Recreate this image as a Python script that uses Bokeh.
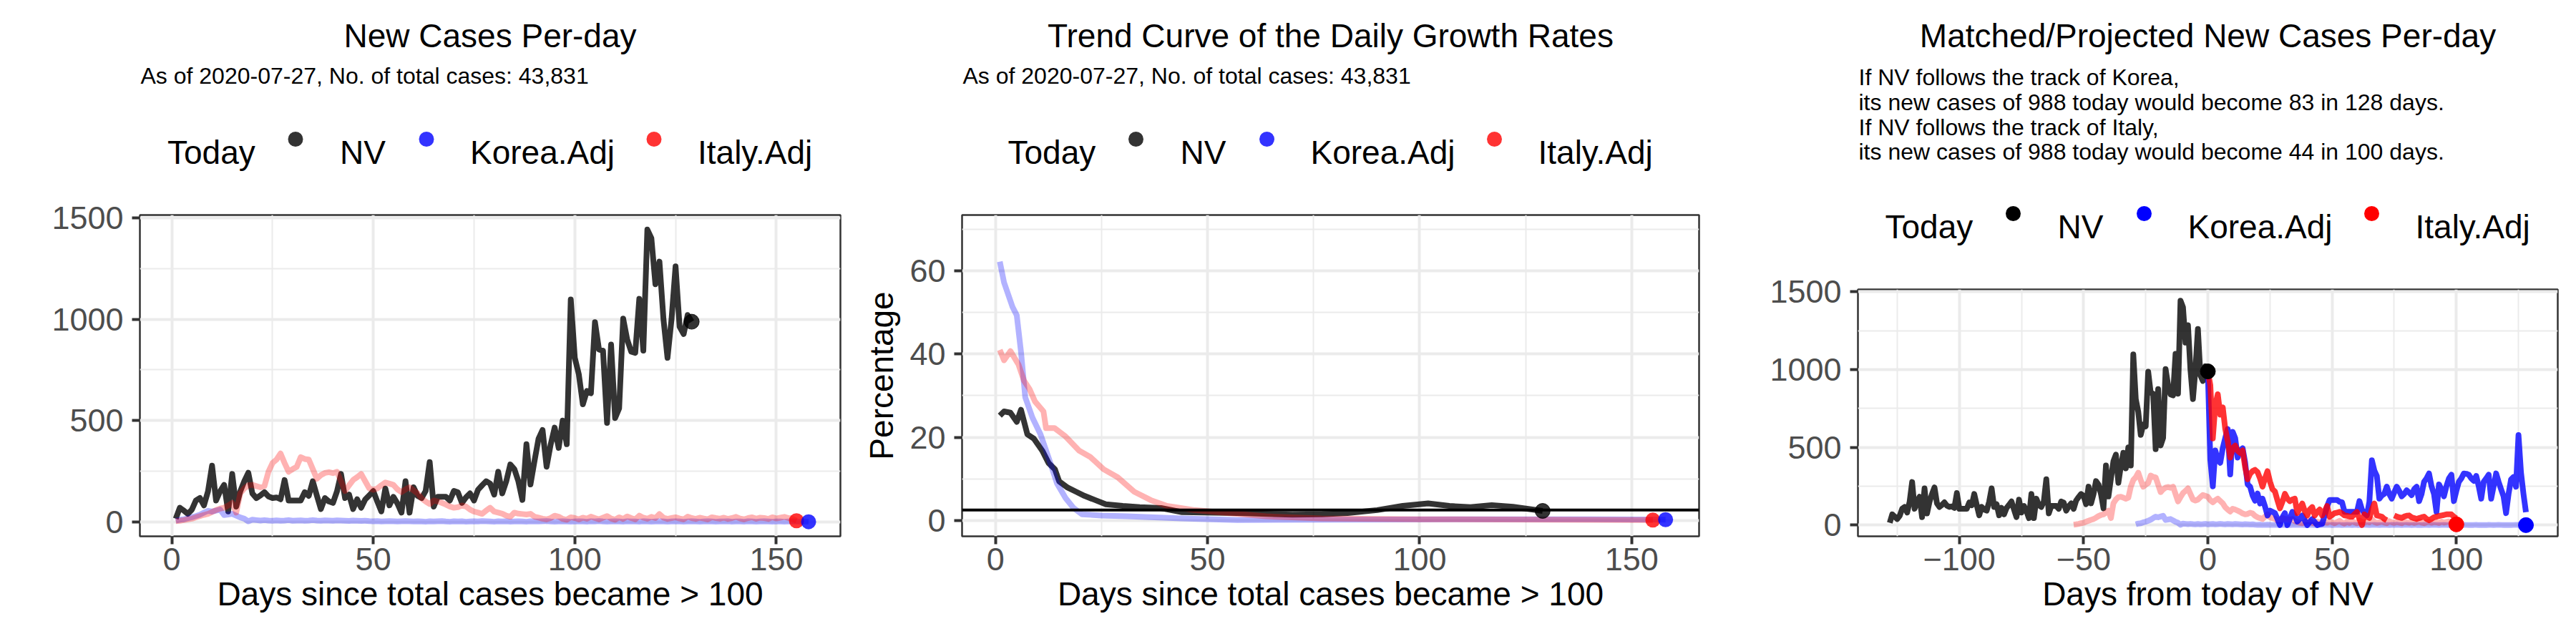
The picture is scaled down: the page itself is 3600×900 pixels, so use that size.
import numpy as np
from bokeh.plotting import figure
from bokeh.models import Range1d, FixedTicker, Span
from bokeh.layouts import row, column
from bokeh.embed import file_html
from bokeh.resources import INLINE
from bokeh.core.properties import value

FONT = "Liberation Sans"

# ---------------- data ----------------
TITLES = ["New Cases Per-day", "Trend Curve of the Daily Growth Rates",
          "Matched/Projected New Cases Per-day"]
SUBTITLE = "As of 2020-07-27, No. of total cases: 43,831"
PROJ_TEXT = ["If NV follows the track of Korea,",
             "its new cases of 988 today would become 83 in 128 days.",
             "If NV follows the track of Italy,",
             "its new cases of 988 today would become 44 in 100 days."]
LEGEND_TITLE = "Today"
SERIES = ["NV", "Korea.Adj", "Italy.Adj"]
XLAB_DAYS = "Days since total cases became > 100"
XLAB_PROJ = "Days from today of NV"
YLAB_RATE = "Percentage"

# NV new cases per day, days 1..129
nv_cases = [15, 69, 55, 39, 60, 105, 117, 81, 150, 277,
            105, 150, 182, 51, 236, 75, 150, 200, 242, 140,
            117, 130, 146, 125, 117, 120, 111, 206, 105, 105,
            105, 105, 146, 128, 200, 130, 63, 117, 100, 93,
            150, 236, 117, 134, 63, 111, 69, 110, 130, 152,
            100, 51, 164, 81, 123, 90, 45, 200, 45, 170,
            128, 117, 152, 295, 75, 123, 123, 123, 105, 152,
            145, 93, 120, 140, 105, 158, 180, 200, 188, 134,
            247, 140, 200, 283, 260, 200, 108, 383, 184, 300,
            410, 453, 272, 380, 465, 365, 500, 383, 1098, 810,
            728, 580, 646, 635, 986, 851, 845, 488, 875, 512,
            560, 1003, 900, 840, 834, 1101, 845, 1443, 1400, 1173,
            1285, 1000, 810, 1000, 1261, 963, 927, 1021, 988]

# Korea.Adj new cases per day, days 1..158
korea_cases = [5, 10, 12, 18, 22, 28, 35, 45, 54, 50,
               55, 60, 33, 36, 39, 30, 21, 15, 2, 10,
               8, 6, 8, 6, 5, 7, 5, 6, 8, 5,
               6, 7, 5, 6, 8, 6, 5, 7, 6, 5,
               7, 6, 5, 4, 6, 5, 4, 5, 3, 2,
               3, 1, 2, 3, 2, 1, 2, 3, 2, 1,
               2, 1, 0, 2, 1, 2, 3, 1, 0, 2,
               1, 2, 0, 1, 2, 1, 3, 2, 1, 0,
               2, 1, 2, 0, 1, 2, 1, 0, 2, 1,
               1, 2, 3, 1, 0, 1, 2, 1, 0, 1,
               2, 1, 0, 2, 1, 3, 1, 0, 1, 2,
               1, 0, 2, 1, 1, 0, 2, 1, 0, 1,
               2, 1, 0, 1, 2, 1, 0, 1, 2, 1,
               0, 1, 2, 1, 0, 1, 1, 2, 0, 1,
               1, 0, 2, 1, 0, 1, 2, 1, 0, 1,
               1, 0, 1, 2, 1, 0, 1, 0]

# Italy.Adj new cases per day, days 1..155
italy_cases = [3, 5, 8, 12, 15, 22, 28, 34, 39, 48,
               58, 65, 69, 80, 93, 45, 140, 165, 180, 182,
               176, 170, 176, 247, 290, 307, 337, 290, 247, 260,
               271, 319, 310, 307, 260, 212, 230, 241, 245, 240,
               247, 200, 152, 180, 206, 220, 236, 200, 165, 158,
               164, 180, 194, 188, 182, 160, 146, 160, 170, 155,
               140, 115, 100, 87, 105, 100, 93, 85, 75, 69,
               72, 80, 75, 60, 50, 45, 39, 55, 69, 50,
               45, 40, 30, 25, 45, 40, 38, 36, 39, 25,
               20, 15, 12, 18, 30, 25, 14, 10, 22, 18,
               12, 20, 15, 25, 18, 12, 20, 28, 16, 10,
               22, 14, 26, 18, 12, 30, 20, 15, 24, 18,
               38, 20, 14, 18, 22, 16, 12, 25, 18, 14,
               20, 16, 12, 22, 18, 15, 20, 14, 18, 24,
               16, 12, 18, 22, 15, 20, 18, 14, 22, 16,
               20, 24, 18, 14, 5]

# Trend curves of daily growth rates (%)
nv_rate_day = [1, 2, 3.5, 5, 6, 7.5, 9, 11, 12.5, 14, 15, 17, 19, 21, 23.5, 26,
               30, 34, 39, 44, 57, 70, 77, 83, 90, 96, 102, 107, 112, 117, 122, 129]
nv_rate = [25.2, 26.2, 25.9, 23.7, 26.6, 20.7, 19.7, 16.8, 13.8, 12.3, 9.4, 7.9,
           6.9, 5.9, 4.9, 3.9, 3.5, 3.2, 3.0, 2.0, 1.8, 1.4, 1.5, 1.8, 2.5, 3.5,
           4.1, 3.5, 3.2, 3.7, 3.3, 2.3]
korea_rate_day = [1, 2, 4, 5, 6, 7, 8.7, 10.6, 12.6, 14.5, 16.5, 18.4, 20.4, 25,
                  31, 44, 57, 80, 110, 140, 158]
korea_rate = [62.2, 57.2, 51.3, 49.3, 40.5, 29.6, 24.7, 20.7, 14.8, 8.9, 5.4, 3.0,
              1.5, 1.2, 1.0, 0.5, 0.1, 0.2, 0.3, 0.3, 0.2]
italy_rate_day = [1, 2, 3.5, 5.4, 6.7, 8, 9.3, 11.3, 11.9, 13.9, 16.5, 19.7, 22.3,
                  25.5, 28.8, 32.7, 36.6, 40.4, 46.9, 54.7, 63.8, 76.8, 100, 130, 155]
italy_rate = [41, 38.5, 40.7, 37.5, 33.6, 31.6, 28.6, 26.2, 22.2, 22.2, 20.2, 16.8,
              15.3, 12.3, 10.4, 6.9, 4.9, 3.5, 2.5, 1.8, 1.0, 0.5, 0.3, 0.2, 0.1]
nv_rate_today = 2.5

# Projections of NV new cases (days 0..128 and 0..100 from today)
korea_proj = [988, 418, 249, 480, 418, 401, 495, 560, 618, 326,
              600, 560, 434, 480, 494, 403, 262, 247, 190, 157,
              203, 139, 170, 120, 62, 93, 85, 77, 40, 0,
              50, 77, 0, 40, 85, 60, 23, 40, 62, 30,
              0, 20, 39, 20, 0, 5, 8, 62, 120, 162,
              162, 162, 162, 150, 147, 85, 85, 85, 85, 85,
              85, 154, 100, 77, 62, 150, 417, 350, 316, 170,
              190, 201, 247, 200, 170, 210, 247, 220, 185, 200,
              224, 210, 193, 230, 247, 154, 200, 278, 300, 332,
              250, 201, 85, 262, 230, 185, 250, 300, 324, 154,
              220, 278, 300, 332, 330, 324, 300, 285, 316, 250,
              170, 278, 300, 324, 170, 250, 332, 278, 230, 185,
              77, 200, 293, 309, 247, 579, 339, 201, 83]
NA = float("nan")
italy_proj = [988, 900, 557, 772, 841, 710, 757, 618, 540, 434,
              494, 511, 478, 464, 480, 372, 295, 330, 347, 355,
              341, 300, 247, 300, 347, 280, 231, 216, 160, 108,
              150, 201, 170, 154, 165, 170, 77, 110, 139, 90,
              62, 100, 116, 62, 85, 100, 62, 90, 123, 54,
              65, 77, 80, 85, 75, 62, 60, 55, 54, 70,
              85, 40, 0, 69, 55, 46, 100, 139, 62, 58,
              54, 40, 31, NA, NA, 62, 55, 50, 46, 55,
              60, 62, 50, 45, 39, 45, 50, 54, 40, 31,
              40, 50, 54, 58, 62, 65, 69, 69, 69, 54,
              44]

NV_TODAY = 129        # day index of today for NV
KOREA_SHIFT = 30      # Korea.Adj day -> days from today of NV
ITALY_SHIFT = 55      # Italy.Adj day -> days from today of NV

# ---------------- styling ----------------
C_NV, C_KO, C_IT = "black", "blue", "red"
GRID = "#EBEBEB"
TXT = 46
TICK_TXT = 45
LW = 8
DOT = 21

nv_day = np.arange(1, len(nv_cases) + 1)
ko_day = np.arange(1, len(korea_cases) + 1)
it_day = np.arange(1, len(italy_cases) + 1)

COL_Y0 = 8
BOTTOM = 892
FRAME_BOTTOM = 757


def make_header(x0, width, top_abs, panel_left, panel_right, title, sub_lines,
                sub_bases, legend_base, legend_alpha):
    # frame of the header covers exactly the panel's horizontal extent;
    # its data coordinates are page pixels
    height = top_abs - COL_Y0
    h = figure(width=width, height=height,
               x_range=Range1d(panel_left, panel_right),
               y_range=Range1d(top_abs, COL_Y0), output_backend="svg",
               toolbar_location=None, x_axis_type=None, y_axis_type=None,
               title_location=None,
               min_border_left=panel_left - x0,
               min_border_right=x0 + width - panel_right,
               min_border_top=0, min_border_bottom=0)
    h.outline_line_color = None
    h.background_fill_color = "white"
    h.border_fill_color = "white"
    center = (panel_left + panel_right) / 2
    h.text(x=[center], y=[57], text=[title], text_font=value(FONT),
           text_font_size=f"{TXT}px", text_align="center",
           text_baseline="alphabetic", text_color="black")
    h.text(x=[panel_left + 1] * len(sub_lines), y=sub_bases,
           text=sub_lines, text_font=value(FONT), text_font_size="32px",
           text_align="left", text_baseline="alphabetic", text_color="black")
    # legend
    label_off = [-451, -210, -28, 290]
    dot_off = [-272, -89, 229]
    labels = [LEGEND_TITLE] + SERIES
    h.text(x=[center + o for o in label_off], y=[legend_base] * 4,
           text=labels, text_font=value(FONT), text_font_size=f"{TXT}px",
           text_align="left", text_baseline="alphabetic", text_color="black")
    h.scatter(x=[center + o for o in dot_off], y=[legend_base - 18] * 3,
              size=DOT, color=[C_NV, C_KO, C_IT], alpha=legend_alpha,
              line_color=None)
    return h


def make_main(width, height, left_abs, right_abs, x0, xr, yr, xt, xmin, yt, ymin,
              xlabel, ylabel=None):
    p = figure(width=width, height=height, x_range=Range1d(*xr),
               y_range=Range1d(*yr), output_backend="svg", toolbar_location=None,
               title_location=None,
               min_border_left=left_abs - x0,
               min_border_right=x0 + width - right_abs,
               min_border_top=30, min_border_bottom=BOTTOM - FRAME_BOTTOM)
    p.background_fill_color = "white"
    p.border_fill_color = "white"
    p.outline_line_color = "#333333"
    p.outline_line_width = 2.5
    p.xaxis.ticker = FixedTicker(ticks=xt, minor_ticks=xmin)
    p.yaxis.ticker = FixedTicker(ticks=yt, minor_ticks=ymin)
    for g in (p.xgrid, p.ygrid):
        g.grid_line_color = GRID
        g.grid_line_width = 4
        g.minor_grid_line_color = GRID
        g.minor_grid_line_width = 2
    for ax in (p.xaxis, p.yaxis):
        ax.axis_line_color = None
        ax.minor_tick_line_color = None
        ax.major_tick_line_color = "#333333"
        ax.major_tick_line_width = 4
        ax.major_tick_out = 11
        ax.major_tick_in = 0
        ax.major_label_text_font = FONT
        ax.major_label_text_font_size = f"{TICK_TXT}px"
        ax.major_label_text_color = "#4D4D4D"
        ax.major_label_standoff = 5
        ax.axis_label_text_font = FONT
        ax.axis_label_text_font_size = f"{TXT}px"
        ax.axis_label_text_font_style = "normal"
        ax.axis_label_text_color = "black"
    p.yaxis.major_label_standoff = 12
    p.xaxis.axis_label = xlabel
    p.xaxis.axis_label_standoff = 4
    if ylabel:
        p.yaxis.axis_label = ylabel
        p.yaxis.axis_label_standoff = 10
    return p


def faded(p, x, y, color):
    p.line(x, y, line_color=color, line_alpha=0.3, line_width=LW,
           line_join="round")


def solid(p, x, y, color):
    p.line(x, y, line_color=color, line_alpha=0.8, line_width=LW,
           line_join="round")


W1, W2, W3 = 1192, 1200, 1192
X1, X2, X3 = 8, 1200, 2400
TOP12, TOP3 = 278, 382

# ---------------- panel 1 ----------------
h1 = make_header(X1, W1, TOP12, 203, 1182, TITLES[0], [SUBTITLE], [113], 220, 0.8)
p1 = make_main(W1, BOTTOM - TOP12, 203, 1182, X1, (-7.9, 165.9), (-72, 1515),
               [0, 50, 100, 150], [25, 75, 125], [0, 500, 1000, 1500],
               [250, 750, 1250], XLAB_DAYS)
solid(p1, nv_day, nv_cases, C_NV)
faded(p1, ko_day, korea_cases, C_KO)
faded(p1, it_day, italy_cases, C_IT)
p1.scatter([nv_day[-1]], [nv_cases[-1]], size=DOT, color=C_NV, alpha=0.8)
p1.scatter([it_day[-1]], [italy_cases[-1]], size=DOT, color=C_IT, alpha=0.8,
           line_color=None)
p1.scatter([ko_day[-1]], [korea_cases[-1]], size=DOT, color=C_KO, alpha=0.8,
           line_color=None)

# ---------------- panel 2 ----------------
h2 = make_header(X2, W2, TOP12, 1352, 2382, TITLES[1], [SUBTITLE], [113], 220, 0.8)
p2 = make_main(W2, BOTTOM - TOP12, 1352, 2382, X2, (-7.9, 165.9), (-3.8, 73.4),
               [0, 50, 100, 150], [25, 75, 125], [0, 20, 40, 60],
               [10, 30, 50, 70], XLAB_DAYS, YLAB_RATE)
solid(p2, nv_rate_day, nv_rate, C_NV)
faded(p2, korea_rate_day, korea_rate, C_KO)
faded(p2, italy_rate_day, italy_rate, C_IT)
p2.add_layout(Span(location=nv_rate_today, dimension="width", line_color="black",
                   line_width=4))
p2.scatter([nv_rate_day[-1]], [nv_rate[-1]], size=DOT, color=C_NV, alpha=0.8)
p2.scatter([italy_rate_day[-1]], [italy_rate[-1]], size=DOT, color=C_IT,
           alpha=0.8, line_color=None)
p2.scatter([korea_rate_day[-1]], [korea_rate[-1]], size=DOT, color=C_KO,
           alpha=0.8, line_color=None)

# ---------------- panel 3 ----------------
h3 = make_header(X3, W3, TOP3, 2604, 3582, TITLES[2], PROJ_TEXT,
                 [115, 150, 185, 219], 324, 1.0)
p3 = make_main(W3, BOTTOM - TOP3, 2604, 3582, X3, (-140.8, 140.8), (-72, 1515),
               [-100, -50, 0, 50, 100], [-125, -75, -25, 25, 75, 125],
               [0, 500, 1000, 1500], [250, 750, 1250], XLAB_PROJ)
solid(p3, nv_day - NV_TODAY, nv_cases, C_NV)
faded(p3, ko_day - KOREA_SHIFT, korea_cases, C_KO)
faded(p3, it_day - ITALY_SHIFT, italy_cases, C_IT)
solid(p3, np.arange(len(korea_proj)), korea_proj, C_KO)
solid(p3, np.arange(len(italy_proj)), italy_proj, C_IT)
p3.scatter([0], [nv_cases[-1]], size=DOT, color=C_NV)
p3.scatter([it_day[-1] - ITALY_SHIFT], [italy_cases[-1]], size=DOT, color=C_IT)
p3.scatter([ko_day[-1] - KOREA_SHIFT], [korea_cases[-1]], size=DOT, color=C_KO)

layout = row(column(h1, p1), column(h2, p2), column(h3, p3))
open("out.html", "w").write(file_html(layout, INLINE))
